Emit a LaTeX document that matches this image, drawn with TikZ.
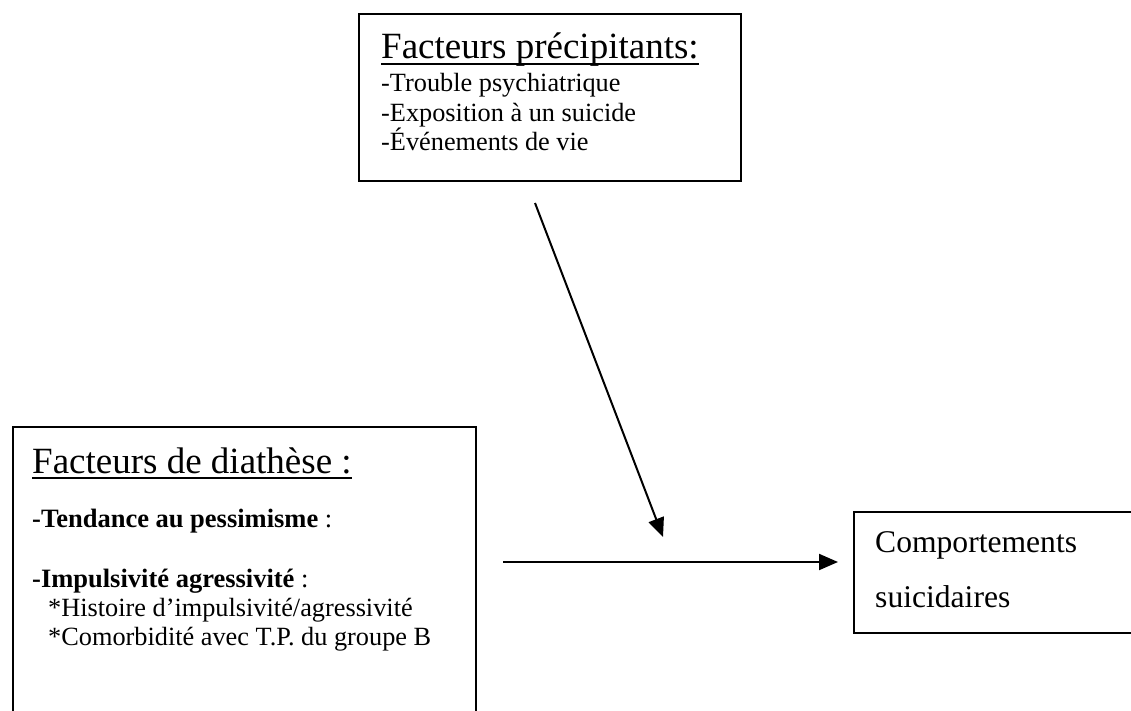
\documentclass[tikz,border=0pt]{standalone}
\usepackage{fontspec}
\setmainfont{Liberation Serif}
\usetikzlibrary{arrows.meta}
\tikzset{
  box/.style={draw, line width=2pt, inner sep=0pt, anchor=north west},
  titletxt/.style={font=\fontsize{37}{42}\selectfont, anchor=base west, inner sep=0pt},
  uline/.style={line width=1.6pt},
  bodytxt/.style={font=\fontsize{26.3}{30}\selectfont, anchor=base west, inner sep=0pt},
  boldtxt/.style={bodytxt, font=\fontsize{26.5}{30}\selectfont\bfseries},
  resulttxt/.style={font=\fontsize{31.6}{36}\selectfont, anchor=base west, inner sep=0pt},
  link/.style={line width=2pt, -{Triangle[length=19pt,width=16pt]}}
}

\begin{document}
\begin{tikzpicture}[x=1pt, y=-1pt]
			%%%%% START %%%%%
			\useasboundingbox (0,0) rectangle (1131,711);
			\clip (0,0) rectangle (1131,711);
			
			% boxes
			\node[box, minimum width=382, minimum height=167] (precip) at (358,13) {};
			\node[box, minimum width=463, minimum height=320] (diath) at (12,426) {};
			\node[box, minimum width=320, minimum height=121] (compo) at (853,511) {};
			
			% facteurs precipitants
			\node[titletxt] (precT) at (381,59) {Facteurs précipitants:};
			\draw[uline] ([yshift=-5pt]precT.base west) -- ([yshift=-5pt]precT.base east);
			\node[bodytxt] (prec1) at (381,92) {-Trouble psychiatrique};
			\node[bodytxt] (prec2) at (381,122) {-Exposition à un suicide};
			\node[bodytxt] (prec3) at (381,151) {-Événements de vie};
			
			% facteurs de diathese
			\node[titletxt] (diaT) at (32,473) {Facteurs de diathèse :};
			\draw[uline] ([yshift=-5pt]diaT.base west) -- ([yshift=-5pt]diaT.base east);
			\node[boldtxt] (dia1) at (32,527) {-Tendance au pessimisme \textmd{:}};
			\node[boldtxt] (dia2) at (32,587) {-Impulsivité agressivité \textmd{:}};
			\node[bodytxt] (dia3) at (48,616) {*Histoire d’impulsivité/agressivité};
			\node[bodytxt] (dia4) at (48,645) {*Comorbidité avec T.P. du groupe B};
			
			% comportements
			\node[resulttxt] (comp1) at (875,552) {Comportements};
			\node[resulttxt] (comp2) at (875,607) {suicidaires};
			
			% arrows
			\coordinate (diagA) at (535,203);
			\coordinate (diagB) at (663,537);
			\coordinate (horA) at (503,562);
			\coordinate (horB) at (838,562);
			\draw[link] (diagA) -- (diagB);
			\draw[link] (horA) -- (horB);
			
			%%%%% END %%%%%
\end{tikzpicture}
\end{document}
